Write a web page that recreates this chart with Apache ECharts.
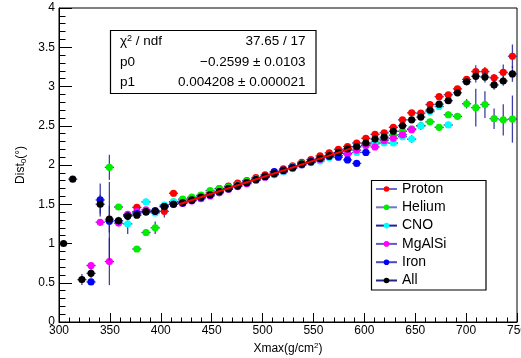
<!DOCTYPE html>
<html><head><meta charset="utf-8">
<script src="https://cdn.jsdelivr.net/npm/echarts@6/dist/echarts.min.js"></script>
<style>html,body{margin:0;padding:0;background:#fff}#c{width:521px;height:358px}</style>
</head><body><div id="c"></div>
<script>
// ---- bin centres (Xmax, g/cm2), bin width 9 ----
const xCenters = [304.5,313.5,322.5,331.5,340.5,349.5,358.5,367.5,376.5,385.5,
  394.5,403.5,412.5,421.5,430.5,439.5,448.5,457.5,466.5,475.5,
  484.5,493.5,502.5,511.5,520.5,529.5,538.5,547.5,556.5,565.5,
  574.5,583.5,592.5,601.5,610.5,619.5,628.5,637.5,646.5,655.5,
  664.5,673.5,682.5,691.5,700.5,709.5,718.5,727.5,736.5,745.5];
const binHalfWidth = 4.5;

const protonVals = [null,null,null,null,null,null,null,1.36,1.46,1.41,
  1.40,1.41,1.64,1.54,1.575,1.61,1.645,1.70,1.73,1.77,
  1.80,1.84,1.875,1.91,1.95,1.99,2.035,2.07,2.115,2.155,
  2.20,2.235,2.28,2.34,2.39,2.41,2.48,2.575,2.665,2.66,
  2.77,2.87,2.895,2.97,3.09,3.19,3.19,3.11,3.18,3.385];
const protonErr = [0,0,0,0,0,0,0,0.05,0.04,0.04,
  0.05,0.08,0.04,0.01,0.01,0.01,0.01,0.01,0.01,0.01,
  0.01,0.01,0.01,0.01,0.01,0.01,0.01,0.01,0.01,0.01,
  0.01,0.01,0.01,0.01,0.01,0.01,0.02,0.02,0.02,0.02,
  0.02,0.02,0.02,0.02,0.03,0.08,0.06,0.05,0.1,0.15];

const heliumVals = [null,null,null,null,null,1.97,1.465,null,0.93,1.14,
  1.20,1.48,1.53,1.565,1.59,1.615,1.675,1.70,1.72,1.745,
  1.795,1.82,1.85,1.88,1.915,1.975,2.02,2.04,2.07,2.11,
  2.15,2.19,2.23,2.27,2.29,2.33,2.38,2.43,2.46,2.50,
  2.55,2.48,2.64,2.62,2.78,2.73,2.77,2.59,2.575,2.585];
const heliumErr = [0,0,0,0,0,0.16,0.03,0,0.03,0.04,
  0.08,0.04,0.03,0.01,0.01,0.01,0.01,0.01,0.01,0.01,
  0.01,0.01,0.01,0.01,0.01,0.01,0.01,0.01,0.01,0.01,
  0.01,0.01,0.01,0.01,0.02,0.02,0.02,0.02,0.02,0.02,
  0.03,0.03,0.04,0.04,0.06,0.24,0.17,0.13,0.2,0.3];

const cnoVals = [null,null,null,null,null,null,null,1.25,1.40,1.53,
  1.39,1.49,1.53,1.52,1.55,1.585,1.62,1.655,1.69,1.73,
  1.77,1.81,1.845,1.875,1.915,1.955,2.0,2.03,2.05,2.095,
  2.12,2.15,2.16,2.25,2.27,2.28,2.28,2.36,2.33,2.50,
  2.68,2.745,2.51,null,null,null,null,null,null,null];
const cnoErr = [0,0,0,0,0,0,0,0.13,0.04,0.04,
  0.04,0.04,0.03,0.01,0.01,0.01,0.01,0.01,0.01,0.01,
  0.01,0.01,0.01,0.01,0.01,0.01,0.01,0.01,0.01,0.01,
  0.01,0.01,0.01,0.01,0.02,0.02,0.02,0.02,0.05,0.05,
  0.04,0.04,0.04,0,0,0,0,0,0,0];

const mgalsiVals = [null,null,null,0.72,1.27,0.77,1.26,1.37,1.405,1.43,
  1.41,1.47,1.50,1.51,1.54,1.57,1.605,1.645,1.69,1.725,
  1.76,1.805,1.845,1.885,1.925,1.96,2.0,2.035,2.07,2.11,
  2.15,2.14,2.19,2.25,2.23,2.31,2.34,2.385,2.45,null,
  null,null,null,null,null,null,null,null,null,null];
const mgalsiErr = [0,0,0,0.03,0.04,0.3,0.03,0.03,0.03,0.03,
  0.03,0.03,0.03,0.01,0.01,0.01,0.01,0.01,0.01,0.01,
  0.01,0.01,0.01,0.01,0.01,0.01,0.01,0.01,0.01,0.01,
  0.01,0.01,0.01,0.01,0.02,0.02,0.02,0.02,0.02,0,
  0,0,0,0,0,0,0,0,0,0];

const ironVals = [null,null,null,0.51,1.555,1.285,1.29,1.35,1.38,1.40,
  1.42,1.47,1.50,1.515,1.55,1.585,1.62,1.66,1.70,1.735,
  1.775,1.815,1.855,1.915,1.935,1.97,2.01,2.045,2.08,2.11,
  2.10,2.065,2.02,2.16,null,null,null,null,null,null,
  null,null,null,null,null,null,null,null,null,null];
const ironErr = [0,0,0,0.03,0.21,0.5,0.05,0.05,0.03,0.03,
  0.03,0.03,0.03,0.01,0.01,0.01,0.01,0.01,0.01,0.01,
  0.01,0.01,0.01,0.01,0.01,0.01,0.01,0.01,0.01,0.01,
  0.03,0.03,0.03,0.04,0,0,0,0,0,0,
  0,0,0,0,0,0,0,0,0,0];

const allVals = [1.00,1.82,0.54,0.62,1.50,1.31,1.29,1.35,1.36,1.405,
  1.41,1.47,1.50,1.52,1.555,1.59,1.62,1.66,1.70,1.735,
  1.775,1.815,1.855,1.89,1.93,1.965,2.01,2.04,2.085,2.12,
  2.16,2.205,2.235,2.28,2.33,2.355,2.43,2.50,2.575,2.61,
  2.70,2.775,2.82,2.92,3.06,3.13,3.12,3.02,3.07,3.16];
const allErr = [0.02,0.02,0.07,0.06,0.12,0.17,0.03,0.05,0.03,0.03,
  0.03,0.04,0.02,0.01,0.01,0.01,0.01,0.01,0.01,0.01,
  0.01,0.01,0.01,0.01,0.01,0.01,0.01,0.01,0.01,0.01,
  0.01,0.015,0.015,0.015,0.015,0.015,0.015,0.015,0.015,0.015,
  0.03,0.03,0.03,0.03,0.04,0.08,0.07,0.06,0.06,0.1];

const seriesNames = ['Proton','Helium','CNO','MgAlSi','Iron','All'];
const markerColors = ['#ff0000','#00ee00','#00ffff','#ff00ff','#0000ff','#000000'];
const legendLineColors = ['#6b6bc9','#7474c9','#22229a','#5c5cc2','#4a4abb','#22228a'];
const seriesVals = [protonVals, heliumVals, cnoVals, mgalsiVals, ironVals, allVals];
const seriesErrs = [protonErr, heliumErr, cnoErr, mgalsiErr, ironErr, allErr];

// fit result
const fitP0 = -0.2599, fitP1 = 0.004208, fitRange = [418, 588];
const statsLabels = ['{a|\u03c7}{s|2}{a| / ndf}', 'p0', 'p1'];
const statsValues = ['37.65 / 17', '\u22120.2599 \u00b1 0.0103', '0.004208 \u00b1 0.000021'];

const FONT = '"Liberation Sans", Arial, Helvetica, sans-serif';
const barColor = '#1e1e96';

const chart = echarts.init(document.getElementById('c'), null, {renderer: 'canvas'});

function makeData(vals, errs) {
  const out = [];
  for (let i = 0; i < xCenters.length; i++) {
    if (vals[i] === null || vals[i] === undefined) continue;
    out.push([xCenters[i], vals[i], errs[i]]);
  }
  return out;
}

const series = [];
// legend representatives (line + marker icon)
seriesNames.forEach((n, k) => {
  series.push({
    name: n, type: 'line', data: [], symbol: 'circle',
    itemStyle: {color: markerColors[k]},
    lineStyle: {color: legendLineColors[k], width: 1.5}
  });
});
// data with error bars
seriesNames.forEach((n, k) => {
  const col = markerColors[k];
  series.push({
    name: n, type: 'custom', data: makeData(seriesVals[k], seriesErrs[k]),
    encode: {x: 0, y: 1}, z: 3,
    renderItem: function (params, api) {
      const x = api.value(0), y = api.value(1), e = api.value(2);
      const c = api.coord([x, y]);
      const l = api.coord([x - binHalfWidth, y]);
      const r = api.coord([x + binHalfWidth, y]);
      const t = api.coord([x, y + e]);
      const b = api.coord([x, y - e]);
      return {type: 'group', children: [
        {type: 'line', shape: {x1: l[0], y1: l[1], x2: r[0], y2: r[1]}, style: {stroke: barColor, lineWidth: 1.3, opacity: 0.85}},
        {type: 'line', shape: {x1: t[0], y1: t[1], x2: b[0], y2: b[1]}, style: {stroke: barColor, lineWidth: 1.3, opacity: 0.85}},
        {type: 'circle', shape: {cx: c[0], cy: c[1], r: 3.6}, style: {fill: col}}
      ]};
    }
  });
});
// fit line
series.push({
  name: 'fit', type: 'line', z: 10, symbol: 'none',
  data: fitRange.map(x => [x, fitP0 + fitP1 * x]),
  lineStyle: {color: '#ff0000', width: 2}, silent: true
});

const graphics = [
  {type: 'rect', shape: {x: 110.5, y: 30.5, width: 205.5, height: 63}, style: {fill: '#fff', stroke: '#000', lineWidth: 1.2}, z: 20},
  {type: 'rect', shape: {x: 371.5, y: 180.5, width: 114.5, height: 109.5}, style: {fill: '#fff', stroke: '#000', lineWidth: 1.2}, z: 20}
];
const rowY = [41.7, 62.3, 82.3];
statsLabels.forEach((t, i) => {
  graphics.push({type: 'text', x: 120, y: rowY[i], z: 21, style: {
    text: t, fill: '#000', font: '13.5px ' + FONT, verticalAlign: 'middle', align: 'left',
    rich: {a: {fontSize: 13.5, fontFamily: FONT, fill: '#000', lineHeight: 15},
           s: {fontSize: 9, fontFamily: FONT, fill: '#000', verticalAlign: 'top', lineHeight: 9}}
  }});
  graphics.push({type: 'text', x: 305.5, y: rowY[i], z: 21, style: {
    text: statsValues[i], fill: '#000', font: '13.5px ' + FONT, verticalAlign: 'middle', align: 'right'
  }});
});

chart.setOption({
  animation: false,
  backgroundColor: '#fff',
  grid: {left: 59, right: 4, top: 8, bottom: 36, show: true, borderColor: '#000', borderWidth: 1,
         backgroundColor: 'transparent', outerBoundsMode: 'none', containLabel: false},
  xAxis: {
    type: 'value', min: 300, max: 750, interval: 50,
    name: '{a|Xmax(g/cm}{s|2}{a|)}', nameLocation: 'middle', nameGap: 17,
    nameTextStyle: {rich: {
      a: {fontSize: 12, fontFamily: FONT, color: '#000', lineHeight: 14},
      s: {fontSize: 8, fontFamily: FONT, color: '#000', verticalAlign: 'top', lineHeight: 8}}},
    axisLine: {onZero: false, lineStyle: {color: '#000', width: 1}},
    axisTick: {inside: true, length: 9, lineStyle: {color: '#000'}},
    minorTick: {show: true, splitNumber: 5, length: 4.5, lineStyle: {color: '#000'}},
    axisLabel: {color: '#000', fontSize: 12, fontFamily: FONT, margin: 3, showMaxLabel: true, hideOverlap: false},
    splitLine: {show: false}
  },
  yAxis: {
    type: 'value', min: 0, max: 4, interval: 0.5,
    name: '{a|Dist}{b|0}{a|(\u00b0)}', nameLocation: 'middle', nameGap: 31, nameRotate: 90,
    nameTextStyle: {rich: {
      a: {fontSize: 12, fontFamily: FONT, color: '#000', lineHeight: 14},
      b: {fontSize: 8, fontFamily: FONT, color: '#000', verticalAlign: 'bottom', lineHeight: 8}}},
    axisLine: {onZero: false, lineStyle: {color: '#000', width: 1}},
    axisTick: {inside: true, length: 13, lineStyle: {color: '#000'}},
    minorTick: {show: true, splitNumber: 5, length: 6.5, lineStyle: {color: '#000'}},
    axisLabel: {color: '#000', fontSize: 12, fontFamily: FONT, margin: 4},
    splitLine: {show: false}
  },
  legend: {
    data: seriesNames, orient: 'vertical', left: 375, top: 182,
    padding: 0, itemWidth: 21, itemHeight: 7, itemGap: 4.3,
    textStyle: {fontSize: 14, fontFamily: FONT, color: '#000'},
    selectedMode: false, z: 25
  },
  graphic: graphics,
  series: series
});
</script></body></html>
